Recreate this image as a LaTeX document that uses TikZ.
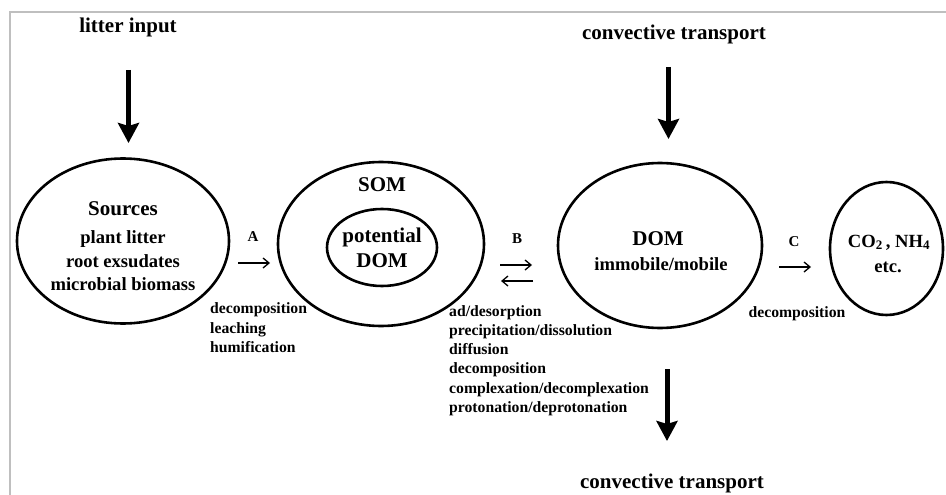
\documentclass[tikz,border=0pt]{standalone}
\usepackage{fontspec}
\setmainfont{Liberation Serif}
\usetikzlibrary{arrows.meta,shapes.geometric}
\begin{document}
\begin{tikzpicture}[x=1pt,y=-1pt,
  oval/.style={draw, ellipse, line width=2.6pt, inner sep=0pt},
  bigarrow/.style={line width=5pt, -{Stealth[length=20pt,width=21pt,inset=3pt]}},
  smallarrow/.style={line width=1.3pt, -{Straight Barb[length=6pt,width=10pt]}},
  headtxt/.style={font=\bfseries\fontsize{21}{24}\selectfont, anchor=base, inner sep=0pt},
  bodytxt/.style={font=\bfseries\fontsize{18.6}{22}\selectfont, anchor=base, inner sep=0pt},
  proctxt/.style={font=\bfseries\fontsize{15.7}{19}\selectfont, anchor=base west, inner sep=0pt},
  steptxt/.style={font=\bfseries\fontsize{15}{18}\selectfont, anchor=base, inner sep=0pt},
  frameline/.style={draw=black!25, line width=2pt}]
\useasboundingbox (0,0) rectangle (946,495);
% frame
\coordinate (f1) at (10,495); \coordinate (f2) at (10,12); \coordinate (f3) at (946,12);
\draw[frameline] (f1) -- (f2) -- (f3);

% litter input
\node[headtxt] (litter) at (128,33) {litter input};
\coordinate (l1) at (128.5,70); \coordinate (l2) at (128.5,143);
\draw[bigarrow] (l1) -- (l2);

% Sources
\node[oval, minimum width=212pt, minimum height=165pt] (src) at (123,241) {};
\node[headtxt] (src1) at (123,215) {Sources};
\node[bodytxt] (src2) at (123,243) {plant litter};
\node[bodytxt] (src3) at (123,267) {root exsudates};
\node[bodytxt] (src4) at (123,290) {microbial biomass};

% A
\node[steptxt] (la) at (253,241) {A};
\coordinate (a1) at (238,263); \coordinate (a2) at (270,263);
\draw[smallarrow] (a1) -- (a2);
\node[proctxt] (pa1) at (210,313) {decomposition};
\node[proctxt] (pa2) at (210,333) {leaching};
\node[proctxt] (pa3) at (210,352) {humification};

% SOM
\node[oval, minimum width=206pt, minimum height=164pt] (som) at (381,244) {};
\node[headtxt] (somt) at (382,191) {SOM};
\node[oval, minimum width=110pt, minimum height=77pt] (pdom) at (382,247.5) {};
\node[headtxt] (pdom1) at (382,242) {potential};
\node[headtxt] (pdom2) at (382,267) {DOM};

% B
\node[steptxt] (lb) at (517,243) {B};
\coordinate (b1) at (500,265); \coordinate (b2) at (532,265);
\draw[smallarrow] (b1) -- (b2);
\coordinate (b3) at (533,281); \coordinate (b4) at (501,281);
\draw[smallarrow] (b3) -- (b4);
\node[proctxt] (pb1) at (449,316) {ad/desorption};
\node[proctxt] (pb2) at (449,335.3) {precipitation/dissolution};
\node[proctxt] (pb3) at (449,354.6) {diffusion};
\node[proctxt] (pb4) at (449,373.9) {decomposition};
\node[proctxt] (pb5) at (449,393.2) {complexation/decomplexation};
\node[proctxt] (pb6) at (449,412.5) {protonation/deprotonation};

% DOM
\node[oval, minimum width=204pt, minimum height=165pt] (dom) at (660,245.5) {};
\node[headtxt] (dom1) at (658,245) {DOM};
\node[bodytxt] (dom2) at (661,270) {immobile/mobile};

% convective transport
\node[headtxt] (conv1) at (674,40) {convective transport};
\coordinate (c1) at (668.5,67); \coordinate (c2) at (668.5,139);
\draw[bigarrow] (c1) -- (c2);
\coordinate (d1) at (667,369); \coordinate (d2) at (667,441);
\draw[bigarrow] (d1) -- (d2);
\node[headtxt] (conv2) at (672,488) {convective transport};

% C
\node[steptxt] (lc) at (794,246) {C};
\coordinate (e1) at (779,267); \coordinate (e2) at (811,267);
\draw[smallarrow] (e1) -- (e2);
\node[proctxt, anchor=base] (pc) at (797,317) {decomposition};

% CO2
\node[oval, minimum width=113pt, minimum height=133pt] (co2) at (886.5,248.5) {};
\node[bodytxt] (co2a) at (889,247) {CO\textsubscript{2}\,, NH\textsubscript{4}};
\node[bodytxt] (co2b) at (888,272) {etc.};
\end{tikzpicture}
\end{document}
